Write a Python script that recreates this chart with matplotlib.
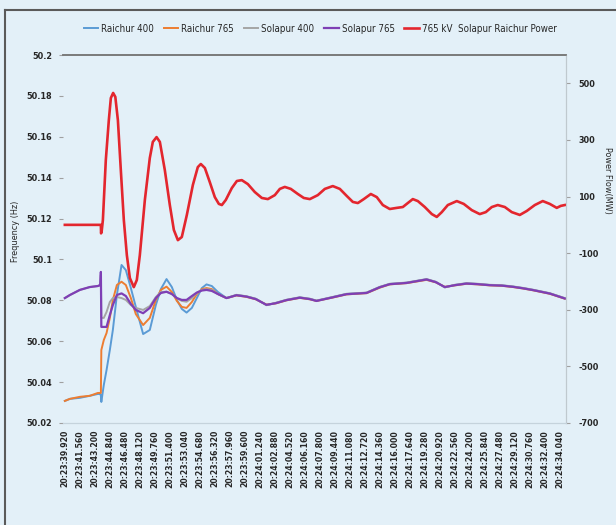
import matplotlib
matplotlib.use("Agg")
import matplotlib.pyplot as plt
from matplotlib.lines import Line2D

plt.rcParams['font.family'] = ['DejaVu Sans']
plt.rcParams['font.stretch'] = 'condensed'

# ---- data ----
tick_labels = ["20:23:39.920", "20:23:41.560", "20:23:43.200", "20:23:44.840", "20:23:46.480",
               "20:23:48.120", "20:23:49.760", "20:23:51.400", "20:23:53.040", "20:23:54.680",
               "20:23:56.320", "20:23:57.960", "20:23:59.600", "20:24:01.240", "20:24:02.880",
               "20:24:04.520", "20:24:06.160", "20:24:07.800", "20:24:09.440", "20:24:11.080",
               "20:24:12.720", "20:24:14.360", "20:24:16.000", "20:24:17.640", "20:24:19.280",
               "20:24:20.920", "20:24:22.560", "20:24:24.200", "20:24:25.840", "20:24:27.480",
               "20:24:29.120", "20:24:30.760", "20:24:32.400", "20:24:34.040"]
tick_step = 1.64  # seconds between labelled samples

# time (s after 20:23:39.920) for frequency series
t_freq = [0.00, 0.55, 1.64, 2.73, 3.61, 3.88, 3.94, 3.99, 4.26, 4.56, 4.92, 5.25, 5.69, 6.20,
          6.67, 7.22, 7.76, 8.56, 9.29, 9.95, 10.50, 11.12, 11.70, 12.25, 12.79, 13.31, 13.89,
          14.43, 14.98, 15.49, 16.07, 16.73, 17.68, 18.77, 19.87, 20.88, 22.05, 23.07, 24.24,
          25.69, 26.79, 27.52, 29.33, 30.80, 32.99, 34.44, 35.53, 37.36, 39.55, 40.56, 41.55,
          42.64, 43.92, 45.15, 46.47, 47.78, 49.01, 50.07, 51.20, 53.03, 54.67]

raichur_400 = [50.0308, 50.0318, 50.0323, 50.0333, 50.0342, 50.0342, 50.0333, 50.0303, 50.0386,
               50.0459, 50.0557, 50.0655, 50.0826, 50.0973, 50.0948, 50.0860, 50.0768, 50.0635,
               50.0655, 50.0777, 50.0855, 50.0904, 50.0865, 50.0802, 50.0758, 50.0740, 50.0763,
               50.0811, 50.0860, 50.0878, 50.0870, 50.0841, 50.0811,
               50.0826, 50.0819, 50.0807, 50.0777, 50.0787, 50.0802, 50.0814, 50.0807, 50.0798,
               50.0816, 50.0831, 50.0837, 50.0865, 50.0880, 50.0886, 50.0903, 50.0890, 50.0864,
               50.0875, 50.0883, 50.0880, 50.0875, 50.0873, 50.0867, 50.0860, 50.0851, 50.0834,
               50.0810]

raichur_765 = [50.0308, 50.0318, 50.0328, 50.0333, 50.0347, 50.0347, 50.0347, 50.0557, 50.0606,
               50.0640, 50.0714, 50.0802, 50.0875, 50.0891, 50.0875, 50.0811, 50.0733, 50.0679,
               50.0714, 50.0802, 50.0851, 50.0867, 50.0841, 50.0797, 50.0768, 50.0763, 50.0792,
               50.0831, 50.0855, 50.0860, 50.0855, 50.0831, 50.0811,
               50.0824, 50.0817, 50.0805, 50.0779, 50.0785, 50.0800, 50.0812, 50.0805, 50.0797,
               50.0814, 50.0829, 50.0835, 50.0862, 50.0878, 50.0884, 50.0900, 50.0888, 50.0866,
               50.0873, 50.0881, 50.0878, 50.0873, 50.0871, 50.0865, 50.0858, 50.0849, 50.0832,
               50.0808]

solapur_400 = [50.0811, 50.0826, 50.0851, 50.0865, 50.0870, 50.0875, 50.0924, 50.0714, 50.0714,
               50.0743, 50.0792, 50.0811, 50.0816, 50.0811, 50.0802, 50.0777, 50.0763, 50.0753,
               50.0772, 50.0816, 50.0841, 50.0842, 50.0831, 50.0811, 50.0797, 50.0793, 50.0811,
               50.0836, 50.0851, 50.0855, 50.0851, 50.0831, 50.0811,
               50.0827, 50.0820, 50.0808, 50.0776, 50.0788, 50.0803, 50.0815, 50.0808, 50.0799,
               50.0817, 50.0832, 50.0838, 50.0866, 50.0881, 50.0887, 50.0904, 50.0891, 50.0863,
               50.0876, 50.0884, 50.0881, 50.0876, 50.0874, 50.0868, 50.0861, 50.0852, 50.0835,
               50.0811]

solapur_765 = [50.0811, 50.0826, 50.0851, 50.0865, 50.0870, 50.0875, 50.0939, 50.0670, 50.0670,
               50.0670, 50.0728, 50.0777, 50.0826, 50.0834, 50.0821, 50.0782, 50.0753, 50.0737,
               50.0763, 50.0811, 50.0836, 50.0842, 50.0831, 50.0811, 50.0802, 50.0802, 50.0821,
               50.0838, 50.0848, 50.0851, 50.0846, 50.0831, 50.0811,
               50.0825, 50.0818, 50.0806, 50.0778, 50.0786, 50.0801, 50.0813, 50.0806, 50.0797,
               50.0815, 50.0830, 50.0836, 50.0864, 50.0879, 50.0885, 50.0902, 50.0889, 50.0865,
               50.0874, 50.0882, 50.0879, 50.0874, 50.0872, 50.0866, 50.0859, 50.0850, 50.0833,
               50.0809]

# time for power flow series
t_power = [0.00, 3.94, 3.96, 4.02, 4.16, 4.48, 4.81, 5.03, 5.28, 5.52, 5.80, 6.12, 6.45, 6.78,
           7.11, 7.54, 7.87, 8.20, 8.75, 9.29, 9.62, 10.03, 10.39, 10.93, 11.48, 11.92, 12.36,
           12.79, 13.34, 14.00, 14.54, 14.87, 15.31, 15.85, 16.40, 16.84, 17.17, 17.60, 18.26,
           18.81, 19.35, 20.01, 20.77, 21.54, 22.20, 22.96, 23.51, 24.05, 24.71, 25.48, 26.13,
           26.79, 27.66, 28.43, 29.30, 30.07, 30.83, 31.49, 32.04, 32.69, 33.46, 34.11, 34.77,
           35.53, 36.30, 36.96, 37.50, 38.05, 38.60, 39.36, 40.13, 40.67, 41.22, 41.88, 42.86,
           43.62, 44.50, 45.37, 46.03, 46.69, 47.34, 48.11, 48.87, 49.75, 50.51, 51.39, 52.26,
           53.03, 53.79, 54.23, 54.67]
power_765 = [0, 0, -30, -25, 17, 229, 370, 448, 466, 452, 370, 194, 17, -107, -188, -220, -195,
             -107, 88, 236, 293, 310, 293, 194, 70, -18, -54, -43, 35, 141, 204, 215, 201, 151,
             98, 74, 70, 88, 130, 155, 158, 144, 116, 95, 91, 105, 127, 134, 127, 109, 95, 91,
             105, 127, 137, 127, 102, 81, 77, 91, 109, 98, 70, 56, 60, 63, 77, 91, 84, 63, 38,
             28, 45, 70, 84, 74, 52, 38, 45, 63, 70, 63, 45, 35, 49, 70, 84, 74, 60, 67, 70]

freq_ticks = [50.02, 50.04, 50.06, 50.08, 50.1, 50.12, 50.14, 50.16, 50.18, 50.2]
freq_tick_labels = ["50.02", "50.04", "50.06", "50.08", "50.1", "50.12", "50.14", "50.16", "50.18", "50.2"]
power_ticks = [-700, -500, -300, -100, 100, 300, 500]

# ---- figure ----
bg = '#E3F0F8'
txt = '#262626'
fig = plt.figure(figsize=(6.16, 5.25), dpi=100, facecolor=bg)
ax = fig.add_axes([0.1023, 0.1943, 0.8165, 0.7009])
ax.set_facecolor(bg)
ax2 = ax.twinx()

l1, = ax.plot(t_freq, raichur_400, color='#5B9BD5', lw=1.4, label='Raichur 400')
l2, = ax.plot(t_freq, raichur_765, color='#ED7D31', lw=1.4, label='Raichur 765')
l3, = ax.plot(t_freq, solapur_400, color='#A5A5A5', lw=1.4, label='Solapur 400')
l4, = ax.plot(t_freq, solapur_765, color='#7E3FB5', lw=1.6, label='Solapur 765')
l5, = ax2.plot(t_power, power_765, color='#E3262E', lw=1.9, label='765 kV  Solapur Raichur Power')

ax.set_xlim(-0.2, 54.8)
ax.set_ylim(50.02, 50.2)
ax2.set_ylim(-700, 600)

ax.set_xticks([i * tick_step for i in range(len(tick_labels))])
ax.set_xticklabels(tick_labels, rotation=90, fontsize=6.2, color=txt, fontweight='bold')
ax.set_yticks(freq_ticks)
ax.set_yticklabels(freq_tick_labels, fontsize=6.5, color=txt, fontweight='bold')
ax2.set_yticks(power_ticks)
ax2.set_yticklabels([str(v) for v in power_ticks], fontsize=6.5, color=txt, fontweight='bold')

ax.tick_params(axis='x', length=0, pad=5)
ax.tick_params(axis='y', length=3, color='#A0A0A0', pad=5)
ax2.tick_params(axis='y', length=3, color='#A0A0A0', pad=6)

for a in (ax, ax2):
    a.spines['left'].set_visible(False)
    a.spines['top'].set_color('#7A7A7A')
    a.spines['top'].set_linewidth(1.2)
    a.spines['bottom'].set_color('#C5D3DC')
    a.spines['right'].set_color('#BFC9CF')

ax.set_ylabel('Frequency (Hz)', fontsize=6.5, color=txt)
ax2.set_ylabel('Power Flow(MW)', fontsize=6.5, color=txt, rotation=270, va='center')
ax.yaxis.set_label_coords(-0.085, 0.52)
ax2.yaxis.set_label_coords(1.082, 0.66)

fig.legend(handles=[l1, l2, l3, l4, l5], loc='center', bbox_to_anchor=(0.52, 0.945),
           ncol=5, frameon=False, fontsize=7, handlelength=1.5, handletextpad=0.3,
           columnspacing=1.0, labelcolor=txt)

# outer frame lines
fig.add_artist(Line2D([0.008, 1.0], [0.981, 0.981], color='#5A5A5A', lw=1.5))
fig.add_artist(Line2D([0.008, 0.008], [0.0, 0.981], color='#5A5A5A', lw=1.5))

fig.savefig('out.png', dpi=100, facecolor=bg)
